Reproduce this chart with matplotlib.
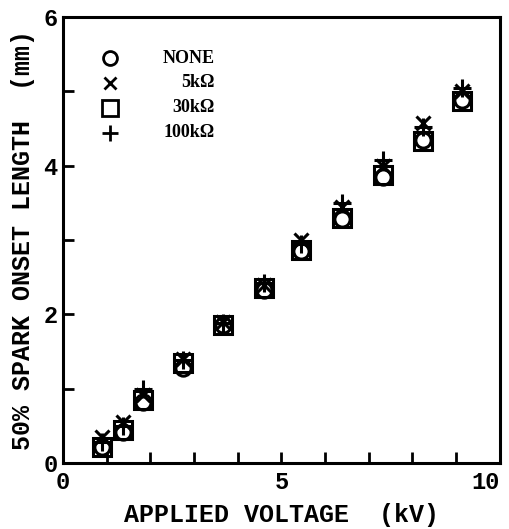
import matplotlib.pyplot as plt
from matplotlib.ticker import MultipleLocator

# applied voltage (kV) and 50% spark onset length (mm) for each series resistor
voltage = [0.9, 1.37, 1.83, 2.75, 3.66, 4.6, 5.45, 6.38, 7.32, 8.24, 9.13]
length_none = [0.22, 0.42, 0.82, 1.28, 1.86, 2.33, 2.85, 3.28, 3.85, 4.35, 4.88]
length_5k = [0.35, 0.55, 0.92, 1.40, 1.90, 2.40, 3.00, 3.45, 4.00, 4.58, 5.00]
length_30k = [0.22, 0.45, 0.85, 1.35, 1.86, 2.35, 2.87, 3.30, 3.88, 4.33, 4.87]
length_100k = [0.28, 0.50, 1.00, 1.38, 1.88, 2.42, 2.95, 3.50, 4.08, 4.52, 5.05]

labels = ['NONE', '5k\u03a9', '30k\u03a9', '100k\u03a9']
markers = ['o', 'x', 's', '+']
sizes = [11, 10, 13, 13]

font = dict(family='Liberation Mono', weight='bold')

fig = plt.figure(figsize=(5.1, 5.29), dpi=100)
ax = fig.add_axes([0.1235, 0.1248, 0.8565, 0.8431])

series = [length_none, length_5k, length_30k, length_100k]
for i, ys in enumerate(series):
    ax.plot(voltage, ys, linestyle='none', marker=markers[i], markersize=sizes[i],
            mfc='none', mec='black', mew=2.2)

ax.set_xlim(0, 10)
ax.set_ylim(0, 6)
ax.set_xticks([0, 5, 10])
ax.set_yticks([0, 2, 4, 6])
ax.xaxis.set_minor_locator(MultipleLocator(1))
ax.yaxis.set_minor_locator(MultipleLocator(1))
ax.tick_params(which='both', direction='in', width=2, length=8, top=False, right=False)
ax.tick_params(which='major', labelsize=17)
ax.tick_params(axis='x', which='major', pad=6)
ax.tick_params(axis='y', which='major', pad=4)
for lab in ax.get_xticklabels() + ax.get_yticklabels():
    lab.set_family('Liberation Mono')
    lab.set_weight('bold')
# keep the "10" inside the figure
ax.xaxis.get_major_ticks()[-1].label1.set_horizontalalignment('right')
for sp in ax.spines.values():
    sp.set_linewidth(2.2)

ax.set_xlabel('APPLIED VOLTAGE  (kV)', fontsize=18, labelpad=6, **font)
ax.set_ylabel('50% SPARK ONSET LENGTH  (mm)', fontsize=18, labelpad=6, **font)

# hand-placed legend: markers on the left, labels right-aligned
for i, lab in enumerate(labels):
    yy = 0.908 - i * 0.056
    ax.plot([0.1075], [yy], transform=ax.transAxes, linestyle='none', marker=markers[i],
            markersize=sizes[i] - 1, mfc='none', mec='black', mew=2)
    ax.text(0.348, yy, lab, transform=ax.transAxes, ha='right', va='center',
            fontsize=13, family='Liberation Serif', weight='bold')

fig.savefig('out.png', dpi=100)
